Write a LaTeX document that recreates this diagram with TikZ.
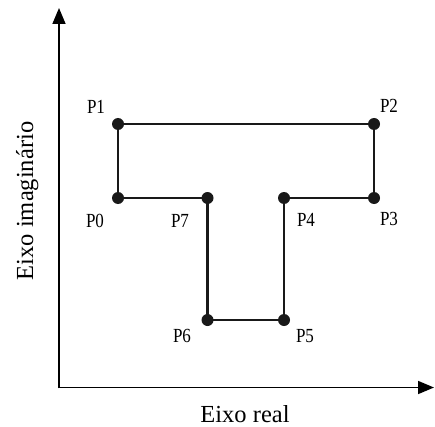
\documentclass[tikz,border=0pt]{standalone}
\usepackage{fontspec}
\setmainfont{Liberation Serif}
\usetikzlibrary{arrows.meta}
\begin{document}
\begin{tikzpicture}[x=1pt,y=1pt,
  pt/.style={circle,fill=black!90,inner sep=0pt,minimum size=12pt},
  lab/.style={inner sep=0pt,font=\fontsize{20}{21}\selectfont},
  axlab/.style={inner sep=0pt,font=\fontsize{24.5}{26}\selectfont},
  axisline/.style={line width=1.6pt,-{Triangle[width=13pt,length=16pt]}},
  outline/.style={line width=2.3pt,line join=miter,black!90}]
\useasboundingbox (0,0) rectangle (435,426);
\coordinate (O) at (59,38.5);
\coordinate (Ytip) at (59,418);
\coordinate (Xtip) at (434,38.5);
\draw[axisline] ([yshift=-0.8pt]O) -- (Ytip);
\draw[axisline] ([xshift=-0.8pt]O) -- (Xtip);
\node[pt] (P0) at (118,228) {};
\node[pt] (P1) at (118,302) {};
\node[pt] (P2) at (374,302) {};
\node[pt] (P3) at (374,228) {};
\node[pt] (P4) at (284,228) {};
\node[pt] (P5) at (284,106) {};
\node[pt] (P6) at (207.5,106) {};
\node[pt] (P7) at (207.5,228) {};
\draw[outline] (P0.center) -- (P1.center) -- (P2.center) -- (P3.center) -- (P4.center) -- (P5.center) -- (P6.center) -- (P7.center) -- cycle;
\node[lab] (L1) at (96,319) {\scalebox{0.85}[1]{P1}};
\node[lab] (L2) at (389,320) {\scalebox{0.85}[1]{P2}};
\node[lab] (L0) at (95,205) {\scalebox{0.85}[1]{P0}};
\node[lab] (L7) at (180,205) {\scalebox{0.85}[1]{P7}};
\node[lab] (L4) at (306,206) {\scalebox{0.85}[1]{P4}};
\node[lab] (L3) at (389,207) {\scalebox{0.85}[1]{P3}};
\node[lab] (L6) at (182,90) {\scalebox{0.85}[1]{P6}};
\node[lab] (L5) at (305,90) {\scalebox{0.85}[1]{P5}};
\node[axlab,anchor=base] (XL) at (245,4) {Eixo real};
\node[axlab,anchor=base,rotate=90] (YL) at (33,225) {Eixo imaginário};
\end{tikzpicture}
\end{document}
